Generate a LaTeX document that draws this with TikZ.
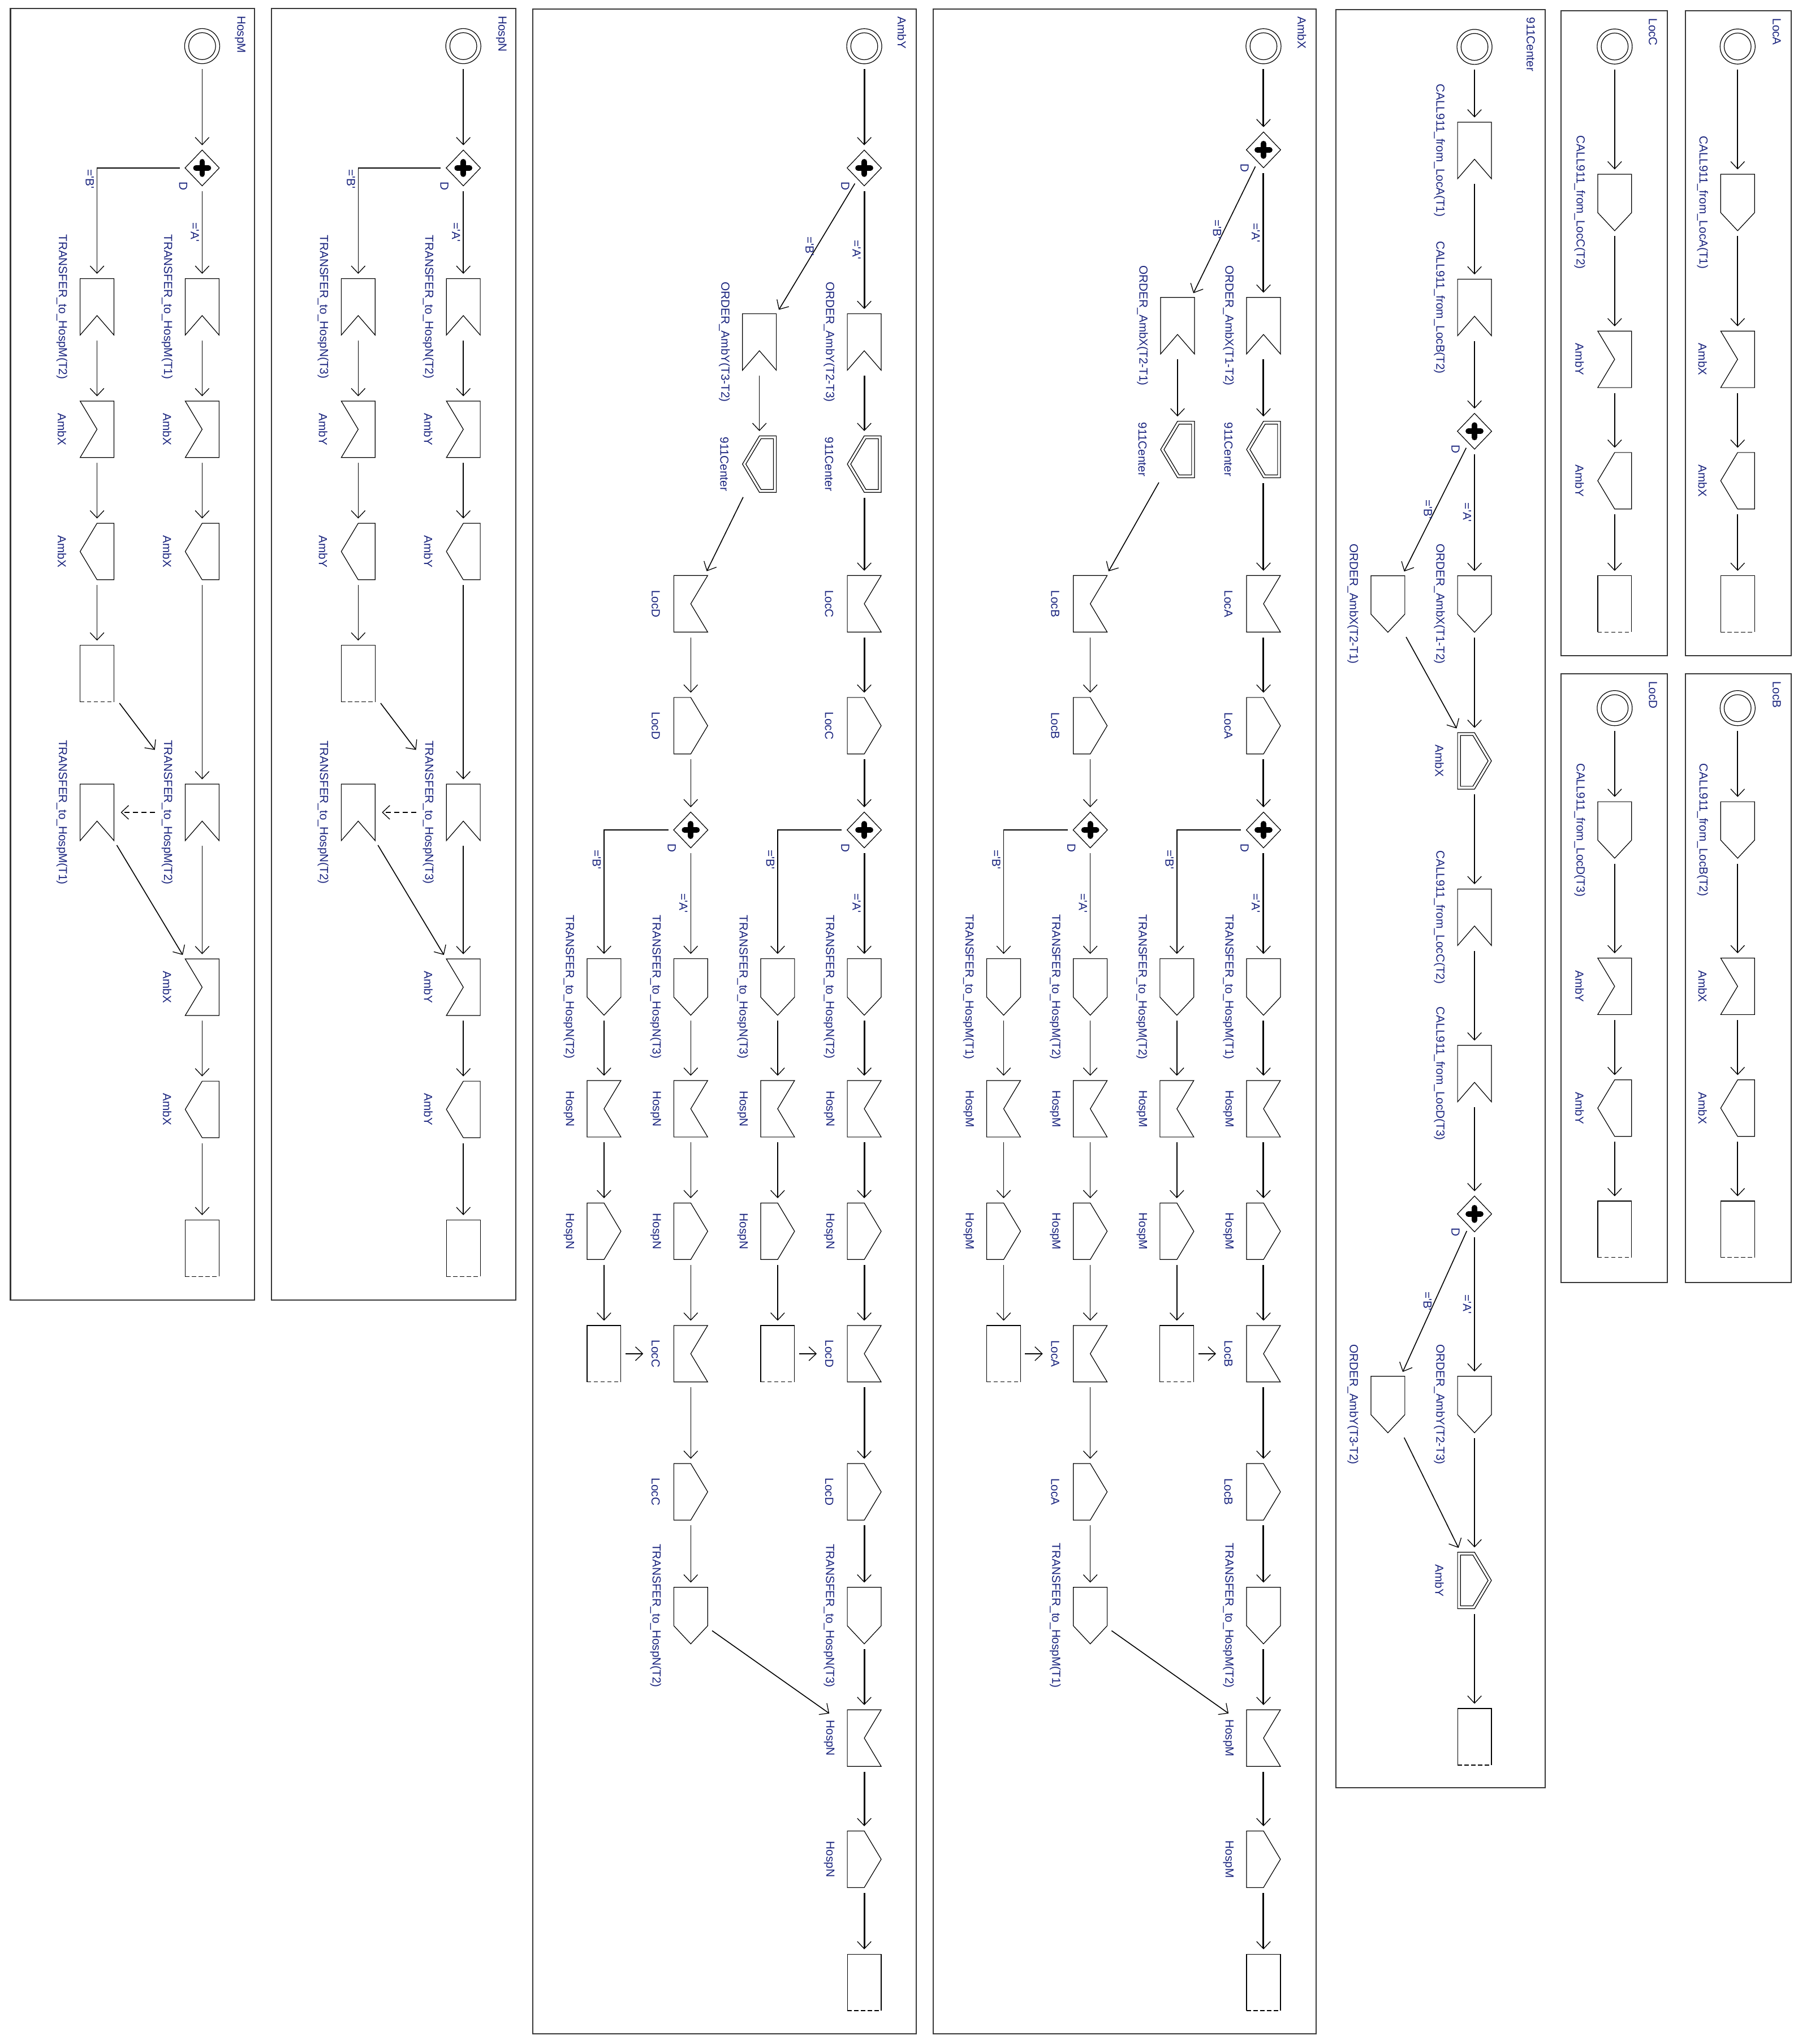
\documentclass[tikz,border=0pt]{standalone}
\usepackage{fontspec}
\setmainfont{Liberation Sans}
\newfontfamily\labfont[Ligatures=TeXOff]{Liberation Sans}
\usetikzlibrary{arrows.meta,shapes.geometric}
\definecolor{labcol}{RGB}{25,35,125}
\definecolor{framecol}{RGB}{55,55,55}
\tikzset{
  shp/.style={draw=black, line width=0.12mm, line join=miter},
  sbox/.style={rectangle, draw=none, minimum width=5.99mm, minimum height=9.99mm, inner sep=0pt, outer sep=0pt},
  gwnode/.style={diamond, draw=black, line width=0.12mm, minimum width=6.06mm, minimum height=6.33mm, inner sep=0pt, outer sep=0pt},
  startnode/.style={circle, draw=black, line width=0.12mm, minimum size=6.2mm, inner sep=0pt, outer sep=0pt},
  txt/.style={font=\labfont\fontsize{5.9}{7}\selectfont, text=labcol, rotate=-90, inner sep=0pt},
  elab/.style={txt, anchor=north, inner sep=0.5mm},
  fl/.style={line width=0.16mm, -{Straight Barb[length=1.3mm,width=2.45mm,line width=0.13mm]}, shorten <=0.95mm, shorten >=0.85mm},
  flb/.style={fl, line width=0.3mm},
  panelframe/.style={draw=framecol, line width=0.22mm},
}
\newcommand\xStart[3]{\node[startnode] (#1) at (#2,#3) {};
  \draw[shp] (#1.center) circle[radius=2.38mm];}
\newcommand\xGate[3]{\node[gwnode] (#1) at (#2,#3) {};
  \draw[line width=0.98mm, line cap=round] ([xshift=-1.1mm]#1.center) -- ([xshift=1.1mm]#1.center) ([yshift=-1.1mm]#1.center) -- ([yshift=1.1mm]#1.center);
  \node[txt] (#1d) at ([xshift=-3.35mm,yshift=-3.2mm]#1.center) {D};}
\newcommand\xRecvB[4]{\node[sbox] (#1) at (#2,#3) {};
  \draw[shp] (#1.north west) -- (#1.north east) -- (#1.south east) -- ([yshift=3.45mm]#1.south) -- (#1.south west) -- cycle;
  \node[txt] (#1t) at ([xshift=-6.2mm]#1.center) {#4};}
\newcommand\xSendB[4]{\node[sbox] (#1) at (#2,#3) {};
  \draw[shp] (#1.north west) -- (#1.north east) -- ([yshift=3.2mm]#1.south east) -- (#1.south) -- ([yshift=3.2mm]#1.south west) -- cycle;
  \node[txt] (#1t) at ([xshift=-6.2mm]#1.center) {#4};}
\newcommand\xRecvR[4]{\node[sbox] (#1) at (#2,#3) {};
  \draw[shp] (#1.north west) -- (#1.north east) -- (#1.center) -- (#1.south east) -- (#1.south west) -- cycle;
  \node[txt] (#1t) at ([xshift=-6.2mm]#1.center) {#4};}
\newcommand\xRecvL[4]{\node[sbox] (#1) at (#2,#3) {};
  \draw[shp] (#1.north west) -- (#1.north east) -- (#1.south east) -- (#1.south west) -- (#1.center) -- cycle;
  \node[txt] (#1t) at ([xshift=-6.2mm]#1.center) {#4};}
\newcommand\xSendR[4]{\node[sbox] (#1) at (#2,#3) {};
  \draw[shp] (#1.north west) -- (#1.north) -- (#1.east) -- (#1.south) -- (#1.south west) -- cycle;
  \node[txt] (#1t) at ([xshift=-6.2mm]#1.center) {#4};}
\newcommand\xSendL[4]{\node[sbox] (#1) at (#2,#3) {};
  \draw[shp] (#1.north) -- (#1.north east) -- (#1.south east) -- (#1.south) -- (#1.west) -- cycle;
  \node[txt] (#1t) at ([xshift=-6.2mm]#1.center) {#4};}
\newcommand\xDSendR[4]{\node[sbox] (#1) at (#2,#3) {};
  \draw[shp] (#1.north west) -- (#1.north) -- (#1.east) -- (#1.south) -- (#1.south west) -- cycle;
  \draw[shp] ([shift={(-2.49mm,4.49mm)}]#1.center) -- ([shift={(-0.29mm,4.49mm)}]#1.center) -- ([shift={(2.40mm,0mm)}]#1.center) -- ([shift={(-0.29mm,-4.49mm)}]#1.center) -- ([shift={(-2.49mm,-4.49mm)}]#1.center) -- cycle;
  \node[txt] (#1t) at ([xshift=-6.2mm]#1.center) {#4};}
\newcommand\xDSendL[4]{\node[sbox] (#1) at (#2,#3) {};
  \draw[shp] (#1.north) -- (#1.north east) -- (#1.south east) -- (#1.south) -- (#1.west) -- cycle;
  \draw[shp] ([shift={(2.49mm,4.49mm)}]#1.center) -- ([shift={(0.29mm,4.49mm)}]#1.center) -- ([shift={(-2.40mm,0mm)}]#1.center) -- ([shift={(0.29mm,-4.49mm)}]#1.center) -- ([shift={(2.49mm,-4.49mm)}]#1.center) -- cycle;
  \node[txt] (#1t) at ([xshift=-6.2mm]#1.center) {#4};}
\newcommand\xEnd[3]{\node[sbox] (#1) at (#2,#3) {};
  \draw[shp] (#1.south west) -- (#1.north west) -- (#1.north east) -- (#1.south east);
  \draw[shp, dash pattern=on 0.75mm off 0.45mm] (#1.south west) -- (#1.south east);}
\newcommand\xPanel[6]{\draw[panelframe] (#2,#3) rectangle (#4,#5);
  \node[txt, anchor=west] (#1) at (#4-11,#3+5.5) {#6};}
\begin{document}
\begin{tikzpicture}[x=0.2303mm,y=-0.2303mm]
\fill[white] (0,0) rectangle (1380,1568.8);
\useasboundingbox (0,0) rectangle (1380,1568.8);
% ---------------- panels
\xPanel{pHM}{8}{6.5}{195.4}{997.7}{HospM}
\xPanel{pHN}{208.5}{6.5}{395.9}{997.7}{HospN}
\xPanel{pAY}{409}{7}{703.4}{1561}{AmbY}
\xPanel{pAX}{716.5}{7}{1010.5}{1561}{AmbX}
\xPanel{pNC}{1025.5}{7.5}{1186.2}{1372}{911Center}
\xPanel{pLC}{1198.5}{8.3}{1280}{503.3}{LocC}
\xPanel{pLA}{1293.8}{8.3}{1375}{503.3}{LocA}
\xPanel{pLD}{1198.5}{517}{1280}{984.5}{LocD}
\xPanel{pLB}{1293.8}{517}{1375}{984.5}{LocB}
% ---------------- HospM
\xStart{hmS}{155.2}{35.4}
\xGate{hmG}{155.2}{128.9}
\xRecvB{hmR1}{155.2}{235.5}{TRANSFER\_to\_HospM(T1)}
\xRecvB{hmR2}{74.5}{235.5}{TRANSFER\_to\_HospM(T2)}
\xRecvL{hmA1}{155.2}{329.5}{AmbX}
\xRecvL{hmA2}{74.5}{329.5}{AmbX}
\xSendL{hmB1}{155.2}{423.3}{AmbX}
\xSendL{hmB2}{74.5}{423.3}{AmbX}
\xEnd{hmE2}{74.5}{517}
\xRecvB{hmR3}{155.2}{623.5}{TRANSFER\_to\_HospM(T2)}
\xRecvB{hmR4}{74.5}{623.5}{TRANSFER\_to\_HospM(T1)}
\xRecvL{hmA3}{155.2}{757.7}{AmbX}
\xSendL{hmB3}{155.2}{851.5}{AmbX}
\xEnd{hmE1}{155.2}{958}
\draw[fl] (hmS) -- (hmG);
\draw[fl] (hmG) -- node[elab]{='A'} (hmR1);
\draw[fl] (hmG.west) -| node[elab,pos=0.551]{='B'} (hmR2.north);
\draw[fl] (hmR1) -- (hmA1);
\draw[fl] (hmA1) -- (hmB1);
\draw[fl] (hmB1) -- (hmR3);
\draw[fl] (hmR2) -- (hmA2);
\draw[fl] (hmA2) -- (hmB2);
\draw[fl] (hmB2) -- (hmE2);
\draw[fl,shorten <=1.6mm,shorten >=8.9mm] (hmE2) -- (hmR3);
\draw[fl,dash pattern=on 0.9mm off 0.6mm,shorten <=5.3mm,shorten >=1.2mm] (hmR3) -- (hmR4);
\draw[fl] (hmR4) -- (hmA3);
\draw[fl] (hmR3) -- (hmA3);
\draw[fl] (hmA3) -- (hmB3);
\draw[fl] (hmB3) -- (hmE1);
% ---------------- HospN
\xStart{hnS}{355.7}{35.4}
\xGate{hnG}{355.7}{128.9}
\xRecvB{hnR1}{355.7}{235.5}{TRANSFER\_to\_HospN(T2)}
\xRecvB{hnR2}{275}{235.5}{TRANSFER\_to\_HospN(T3)}
\xRecvL{hnA1}{355.7}{329.5}{AmbY}
\xRecvL{hnA2}{275}{329.5}{AmbY}
\xSendL{hnB1}{355.7}{423.3}{AmbY}
\xSendL{hnB2}{275}{423.3}{AmbY}
\xEnd{hnE2}{275}{517}
\xRecvB{hnR3}{355.7}{623.5}{TRANSFER\_to\_HospN(T3)}
\xRecvB{hnR4}{275}{623.5}{TRANSFER\_to\_HospN(T2)}
\xRecvL{hnA3}{355.7}{757.7}{AmbY}
\xSendL{hnB3}{355.7}{851.5}{AmbY}
\xEnd{hnE1}{355.7}{958}
\draw[fl] (hnS) -- (hnG);
\draw[fl] (hnG) -- node[elab]{='A'} (hnR1);
\draw[fl] (hnG.west) -| node[elab,pos=0.551]{='B'} (hnR2.north);
\draw[fl] (hnR1) -- (hnA1);
\draw[fl] (hnA1) -- (hnB1);
\draw[fl] (hnB1) -- (hnR3);
\draw[fl] (hnR2) -- (hnA2);
\draw[fl] (hnA2) -- (hnB2);
\draw[fl] (hnB2) -- (hnE2);
\draw[fl,shorten <=1.6mm,shorten >=8.9mm] (hnE2) -- (hnR3);
\draw[fl,dash pattern=on 0.9mm off 0.6mm,shorten <=5.3mm,shorten >=1.2mm] (hnR3) -- (hnR4);
\draw[fl] (hnR4) -- (hnA3);
\draw[fl] (hnR3) -- (hnA3);
\draw[fl] (hnA3) -- (hnB3);
\draw[fl] (hnB3) -- (hnE1);
% ---------------- AmbY
\xStart{ayS}{663.5}{35.5}
\xGate{ayG}{663.5}{128.9}
\xRecvB{ayR1}{663.5}{262.5}{ORDER\_AmbY(T2-T3)}
\xRecvB{ayR2}{583}{262.5}{ORDER\_AmbY(T3-T2)}
\xDSendL{ayD1}{663.5}{356.2}{911Center}
\xDSendL{ayD2}{583}{356.2}{911Center}
\xRecvR{ayL1}{663.5}{463.4}{LocC}
\xRecvR{ayL2}{530.3}{463.4}{LocD}
\xSendR{ayM1}{663.5}{557}{LocC}
\xSendR{ayM2}{530.3}{557}{LocD}
\xGate{ayG1}{663.5}{637}
\xGate{ayG2}{530.3}{637}
\xSendB{ayT1}{663.5}{757.5}{TRANSFER\_to\_HospN(T2)}
\xSendB{ayT2}{597}{757.5}{TRANSFER\_to\_HospN(T3)}
\xSendB{ayT3}{530.3}{757.5}{TRANSFER\_to\_HospN(T3)}
\xSendB{ayT4}{463.7}{757.5}{TRANSFER\_to\_HospN(T2)}
\xRecvR{ayH1}{663.5}{851}{HospN}
\xRecvR{ayH2}{597}{851}{HospN}
\xRecvR{ayH3}{530.3}{851}{HospN}
\xRecvR{ayH4}{463.7}{851}{HospN}
\xSendR{ayK1}{663.5}{945}{HospN}
\xSendR{ayK2}{597}{945}{HospN}
\xSendR{ayK3}{530.3}{945}{HospN}
\xSendR{ayK4}{463.7}{945}{HospN}
\xRecvR{ayP1}{663.5}{1039}{LocD}
\xEnd{ayE2}{597}{1039}
\xRecvR{ayP3}{530.3}{1039}{LocC}
\xEnd{ayE4}{463.7}{1039}
\xSendR{ayQ1}{663.5}{1145}{LocD}
\xSendR{ayQ3}{530.3}{1145}{LocC}
\xSendB{ayU1}{663.5}{1240}{TRANSFER\_to\_HospN(T3)}
\xSendB{ayU3}{530.3}{1240}{TRANSFER\_to\_HospN(T2)}
\xRecvR{ayV1}{663.5}{1334}{HospN}
\xSendR{ayW1}{663.5}{1427}{HospN}
\xEnd{ayE1}{663.5}{1521.5}
\draw[flb] (ayS) -- (ayG);
\draw[flb] (ayG) -- node[elab]{='A'} (ayR1);
\draw[fl] (ayG) -- node[elab]{='B'} (ayR2);
\draw[flb] (ayR1) -- (ayD1);
\draw[fl] (ayR2) -- (ayD2);
\draw[flb] (ayD1) -- (ayL1);
\draw[fl] (ayD2) -- (ayL2);
\draw[flb] (ayL1) -- (ayM1);
\draw[fl] (ayL2) -- (ayM2);
\draw[flb] (ayM1) -- (ayG1);
\draw[fl] (ayM2) -- (ayG2);
\draw[flb] (ayG1) -- node[elab]{='A'} (ayT1);
\draw[fl] (ayG1.west) -| node[elab,pos=0.615]{='B'} (ayT2.north);
\draw[fl] (ayG2) -- node[elab]{='A'} (ayT3);
\draw[fl] (ayG2.west) -| node[elab,pos=0.615]{='B'} (ayT4.north);
\draw[flb] (ayT1) -- (ayH1);
\draw[fl] (ayT2) -- (ayH2);
\draw[fl] (ayT3) -- (ayH3);
\draw[fl] (ayT4) -- (ayH4);
\draw[flb] (ayH1) -- (ayK1);
\draw[fl] (ayH2) -- (ayK2);
\draw[fl] (ayH3) -- (ayK3);
\draw[fl] (ayH4) -- (ayK4);
\draw[flb] (ayK1) -- (ayP1);
\draw[fl] (ayK2) -- (ayE2);
\draw[fl] (ayK3) -- (ayP3);
\draw[fl] (ayK4) -- (ayE4);
\draw[fl,shorten <=0.8mm,shorten >=5.4mm] (ayE2) -- (ayP1);
\draw[fl,shorten <=0.8mm,shorten >=5.4mm] (ayE4) -- (ayP3);
\draw[flb] (ayP1) -- (ayQ1);
\draw[fl] (ayP3) -- (ayQ3);
\draw[flb] (ayQ1) -- (ayU1);
\draw[fl] (ayQ3) -- (ayU3);
\draw[flb] (ayU1) -- (ayV1);
\draw[fl,shorten >=3.9mm] (ayU3) -- (ayV1);
\draw[flb] (ayV1) -- (ayW1);
\draw[flb] (ayW1) -- (ayE1);
% ---------------- AmbX
\xStart{axS}{970}{35.5}
\xGate{axG}{970}{115}
\xRecvB{axR1}{970}{250}{ORDER\_AmbX(T1-T2)}
\xRecvB{axR2}{904}{250}{ORDER\_AmbX(T2-T1)}
\xDSendL{axD1}{970}{345}{911Center}
\xDSendL{axD2}{904}{345}{911Center}
\xRecvR{axL1}{970}{463.4}{LocA}
\xRecvR{axL2}{837}{463.4}{LocB}
\xSendR{axM1}{970}{557}{LocA}
\xSendR{axM2}{837}{557}{LocB}
\xGate{axG1}{970}{637}
\xGate{axG2}{837}{637}
\xSendB{axT1}{970}{757.5}{TRANSFER\_to\_HospM(T1)}
\xSendB{axT2}{903.5}{757.5}{TRANSFER\_to\_HospM(T2)}
\xSendB{axT3}{837}{757.5}{TRANSFER\_to\_HospM(T2)}
\xSendB{axT4}{770.5}{757.5}{TRANSFER\_to\_HospM(T1)}
\xRecvR{axH1}{970}{851}{HospM}
\xRecvR{axH2}{903.5}{851}{HospM}
\xRecvR{axH3}{837}{851}{HospM}
\xRecvR{axH4}{770.5}{851}{HospM}
\xSendR{axK1}{970}{945}{HospM}
\xSendR{axK2}{903.5}{945}{HospM}
\xSendR{axK3}{837}{945}{HospM}
\xSendR{axK4}{770.5}{945}{HospM}
\xRecvR{axP1}{970}{1039}{LocB}
\xEnd{axE2}{903.5}{1039}
\xRecvR{axP3}{837}{1039}{LocA}
\xEnd{axE4}{770.5}{1039}
\xSendR{axQ1}{970}{1145}{LocB}
\xSendR{axQ3}{837}{1145}{LocA}
\xSendB{axU1}{970}{1240}{TRANSFER\_to\_HospM(T2)}
\xSendB{axU3}{837}{1240}{TRANSFER\_to\_HospM(T1)}
\xRecvR{axV1}{970}{1334}{HospM}
\xSendR{axW1}{970}{1427}{HospM}
\xEnd{axE1}{970}{1521.5}
\draw[flb] (axS) -- (axG);
\draw[flb] (axG) -- node[elab]{='A'} (axR1);
\draw[fl] (axG) -- node[elab]{='B'} (axR2);
\draw[flb] (axR1) -- (axD1);
\draw[fl] (axR2) -- (axD2);
\draw[flb] (axD1) -- (axL1);
\draw[fl] (axD2) -- (axL2);
\draw[flb] (axL1) -- (axM1);
\draw[fl] (axL2) -- (axM2);
\draw[flb] (axM1) -- (axG1);
\draw[fl] (axM2) -- (axG2);
\draw[flb] (axG1) -- node[elab]{='A'} (axT1);
\draw[fl] (axG1.west) -| node[elab,pos=0.615]{='B'} (axT2.north);
\draw[fl] (axG2) -- node[elab]{='A'} (axT3);
\draw[fl] (axG2.west) -| node[elab,pos=0.615]{='B'} (axT4.north);
\draw[flb] (axT1) -- (axH1);
\draw[fl] (axT2) -- (axH2);
\draw[fl] (axT3) -- (axH3);
\draw[fl] (axT4) -- (axH4);
\draw[flb] (axH1) -- (axK1);
\draw[fl] (axH2) -- (axK2);
\draw[fl] (axH3) -- (axK3);
\draw[fl] (axH4) -- (axK4);
\draw[flb] (axK1) -- (axP1);
\draw[fl] (axK2) -- (axE2);
\draw[fl] (axK3) -- (axP3);
\draw[fl] (axK4) -- (axE4);
\draw[fl,shorten <=0.8mm,shorten >=5.4mm] (axE2) -- (axP1);
\draw[fl,shorten <=0.8mm,shorten >=5.4mm] (axE4) -- (axP3);
\draw[flb] (axP1) -- (axQ1);
\draw[fl] (axP3) -- (axQ3);
\draw[flb] (axQ1) -- (axU1);
\draw[fl] (axQ3) -- (axU3);
\draw[flb] (axU1) -- (axV1);
\draw[fl,shorten >=3.9mm] (axU3) -- (axV1);
\draw[flb] (axV1) -- (axW1);
\draw[flb] (axW1) -- (axE1);
% ---------------- 911Center
\xStart{ncS}{1132}{36}
\xRecvB{ncC1}{1132}{115.5}{CALL911\_from\_LocA(T1)}
\xRecvB{ncC2}{1132}{236}{CALL911\_from\_LocB(T2)}
\xGate{ncG1}{1132}{331}
\xSendB{ncO1}{1132}{463.6}{ORDER\_AmbX(T1-T2)}
\xSendB{ncO2}{1065.5}{463.6}{ORDER\_AmbX(T2-T1)}
\xDSendR{ncD1}{1132}{584}{AmbX}
\xRecvB{ncC3}{1132}{704}{CALL911\_from\_LocC(T2)}
\xRecvB{ncC4}{1132}{824}{CALL911\_from\_LocD(T3)}
\xGate{ncG2}{1132}{931.7}
\xSendB{ncO3}{1132}{1078}{ORDER\_AmbY(T2-T3)}
\xSendB{ncO4}{1065.5}{1078}{ORDER\_AmbY(T3-T2)}
\xDSendR{ncD2}{1132}{1213}{AmbY}
\xEnd{ncE}{1132}{1333}
\draw[fl] (ncS) -- (ncC1);
\draw[fl] (ncC1) -- (ncC2);
\draw[fl] (ncC2) -- (ncG1);
\draw[fl] (ncG1) -- node[elab]{='A'} (ncO1);
\draw[fl] (ncG1) -- node[elab]{='B'} (ncO2);
\draw[fl] (ncO1) -- (ncD1);
\draw[fl] (ncO2) -- (ncD1);
\draw[fl] (ncD1) -- (ncC3);
\draw[fl] (ncC3) -- (ncC4);
\draw[fl] (ncC4) -- (ncG2);
\draw[fl] (ncG2) -- node[elab]{='A'} (ncO3);
\draw[fl] (ncG2) -- node[elab]{='B'} (ncO4);
\draw[fl] (ncO3) -- (ncD2);
\draw[fl] (ncO4) -- (ncD2);
\draw[fl] (ncD2) -- (ncE);
% ---------------- LocC
\xStart{lcS}{1239.6}{35.7}
\xSendB{lcC}{1239.6}{155.4}{CALL911\_from\_LocC(T2)}
\xRecvL{lcR}{1239.6}{275.8}{AmbY}
\xSendL{lcT}{1239.6}{369}{AmbY}
\xEnd{lcE}{1239.6}{463.5}
\draw[fl] (lcS) -- (lcC);
\draw[fl] (lcC) -- (lcR);
\draw[fl] (lcR) -- (lcT);
\draw[fl] (lcT) -- (lcE);
% ---------------- LocA
\xStart{laS}{1334}{35.7}
\xSendB{laC}{1334}{155.4}{CALL911\_from\_LocA(T1)}
\xRecvL{laR}{1334}{275.8}{AmbX}
\xSendL{laT}{1334}{369}{AmbX}
\xEnd{laE}{1334}{463.5}
\draw[fl] (laS) -- (laC);
\draw[fl] (laC) -- (laR);
\draw[fl] (laR) -- (laT);
\draw[fl] (laT) -- (laE);
% ---------------- LocD
\xStart{ldS}{1239.6}{543.5}
\xSendB{ldC}{1239.6}{637}{CALL911\_from\_LocD(T3)}
\xRecvL{ldR}{1239.6}{757}{AmbY}
\xSendL{ldT}{1239.6}{850.5}{AmbY}
\xEnd{ldE}{1239.6}{943.5}
\draw[fl] (ldS) -- (ldC);
\draw[fl] (ldC) -- (ldR);
\draw[fl] (ldR) -- (ldT);
\draw[fl] (ldT) -- (ldE);
% ---------------- LocB
\xStart{lbS}{1334}{543.5}
\xSendB{lbC}{1334}{637}{CALL911\_from\_LocB(T2)}
\xRecvL{lbR}{1334}{757}{AmbX}
\xSendL{lbT}{1334}{850.5}{AmbX}
\xEnd{lbE}{1334}{943.5}
\draw[fl] (lbS) -- (lbC);
\draw[fl] (lbC) -- (lbR);
\draw[fl] (lbR) -- (lbT);
\draw[fl] (lbT) -- (lbE);
\end{tikzpicture}
\end{document}
